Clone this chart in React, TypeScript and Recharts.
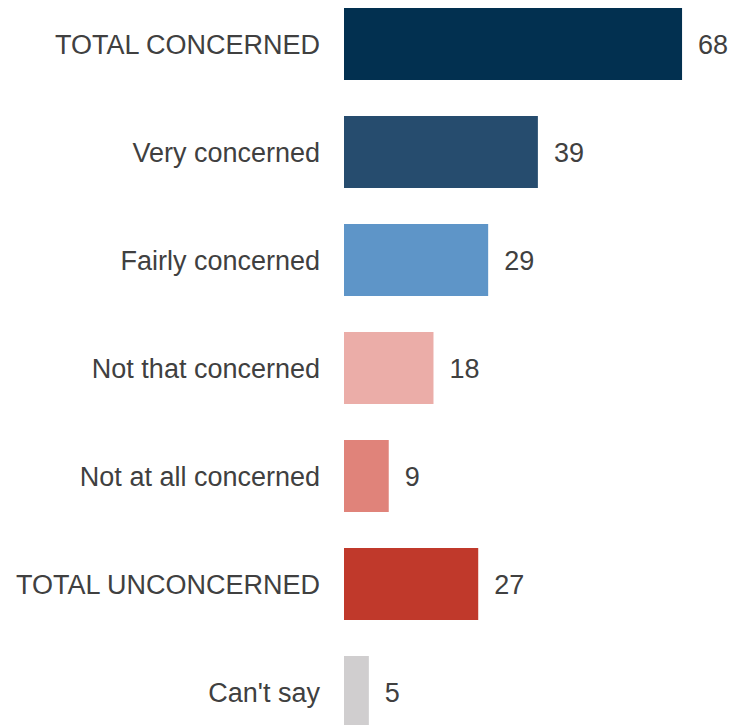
import React from "react";
import { BarChart, Bar, XAxis, YAxis, Cell, LabelList } from "recharts";

const categories = [
  "TOTAL CONCERNED",
  "Very concerned",
  "Fairly concerned",
  "Not that concerned",
  "Not at all concerned",
  "TOTAL UNCONCERNED",
  "Can't say",
];
const values = [68, 39, 29, 18, 9, 27, 5];
const colors = ["#023050", "#264C6E", "#5E95C8", "#EBADA8", "#E0837A", "#C0392B", "#D0CECF"];

const data = categories.map((name, i) => ({ name, value: values[i] }));

export default function App() {
  return (
    <div style={{ position: "absolute", left: 0, top: -10 }}>
      <BarChart
        width={729}
        height={756}
        data={data}
        layout="vertical"
        margin={{ top: 0, right: 37, bottom: 0, left: 0 }}
        barCategoryGap={18}
      >
        <XAxis type="number" domain={[0, 70]} hide />
        <YAxis
          type="category"
          dataKey="name"
          width={344}
          axisLine={false}
          tickLine={false}
          tickSize={0}
          tickMargin={24}
          tick={{ fill: "#404040", fontSize: 27, fontFamily: "Liberation Sans, Arial, sans-serif" }}
        />
        <Bar dataKey="value" isAnimationActive={false}>
          {data.map((d, i) => (
            <Cell key={d.name} fill={colors[i]} />
          ))}
          <LabelList
            dataKey="value"
            position="right"
            offset={16}
            fill="#404040"
            fontSize={27}
            fontFamily="Liberation Sans, Arial, sans-serif"
          />
        </Bar>
      </BarChart>
    </div>
  );
}
